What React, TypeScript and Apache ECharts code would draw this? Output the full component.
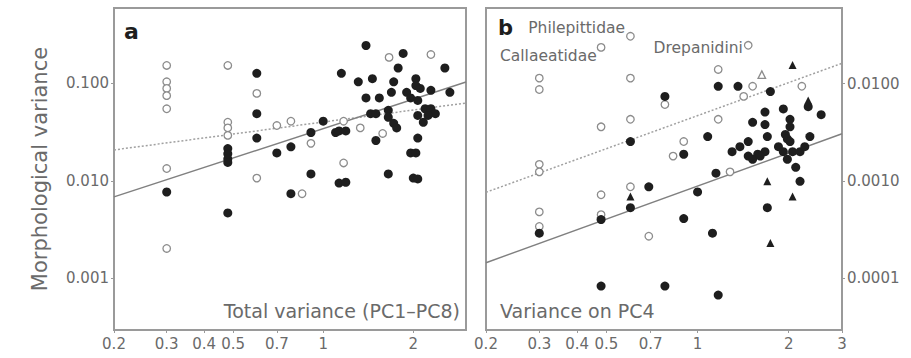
import React, { useEffect, useRef } from "react";
import * as echarts from "echarts";

// ---- tick labels ----
const xTicksA = [0.2, 0.3, 0.4, 0.5, 0.7, 1, 2];
const xTicksB = [0.2, 0.3, 0.4, 0.5, 0.7, 1, 2, 3];
const yTicksA = [0.001, 0.01, 0.1];
const yTicksB = [0.0001, 0.001, 0.01];

// ---- panel a: total variance (PC1–PC8) ----
const aFilled: number[][] = [
  [0.3, 0.0077],
  [0.48, 0.0215], [0.48, 0.019], [0.48, 0.0168], [0.48, 0.0155], [0.48, 0.0047],
  [0.6, 0.127], [0.6, 0.049], [0.6, 0.0275],
  [0.7, 0.0194],
  [0.78, 0.0224], [0.78, 0.0074],
  [0.91, 0.0314], [0.91, 0.0118],
  [1.0, 0.041],
  [1.1, 0.0314],
  [1.13, 0.0326], [1.19, 0.0326], [1.13, 0.0095], [1.19, 0.0097],
  [1.15, 0.127],
  [1.39, 0.245],
  [1.31, 0.104], [1.46, 0.112],
  [1.39, 0.071], [1.54, 0.071],
  [1.44, 0.049], [1.5, 0.049],
  [1.5, 0.026],
  [1.65, 0.053], [1.65, 0.045], [1.72, 0.039], [1.76, 0.035],
  [1.69, 0.081], [1.72, 0.104],
  [1.78, 0.144],
  [1.85, 0.203],
  [1.9, 0.081],
  [1.96, 0.071],
  [2.04, 0.112], [2.04, 0.095], [2.11, 0.089],
  [2.29, 0.085],
  [2.55, 0.144],
  [2.65, 0.081],
  [2.07, 0.067],
  [2.19, 0.055], [2.29, 0.055], [2.37, 0.049], [2.24, 0.047], [2.07, 0.047], [2.16, 0.04],
  [2.07, 0.0275],
  [1.96, 0.0194], [2.04, 0.0194],
  [1.65, 0.0118],
  [2.0, 0.0107], [2.07, 0.0105],
];
const aOpen: number[][] = [
  [0.3, 0.153], [0.3, 0.104], [0.3, 0.089], [0.3, 0.075], [0.3, 0.055], [0.3, 0.0134], [0.3, 0.00203],
  [0.48, 0.153], [0.48, 0.04], [0.48, 0.035], [0.48, 0.0293],
  [0.6, 0.079], [0.6, 0.0107],
  [0.7, 0.037], [0.78, 0.041], [0.85, 0.0074], [0.91, 0.0243],
  [1.17, 0.041], [1.33, 0.035], [1.17, 0.0153], [1.58, 0.0307], [1.66, 0.185], [2.29, 0.198],
];
const aSolidLine: number[][] = [[0.2, 0.00686], [3, 0.1035]];
const aDashedLine: number[][] = [[0.2, 0.0208], [3, 0.063]];

// ---- panel b: variance on PC4 ----
const bFilled: number[][] = [
  [0.78, 0.0074], [0.6, 0.00254], [0.9, 0.00188], [0.69, 0.00087], [0.6, 0.00053], [0.48, 0.0004],
  [0.3, 0.00029], [0.9, 0.00041], [1.0, 0.00077], [0.48, 0.000083], [0.78, 0.000083],
  [1.08, 0.00286], [1.15, 0.0012], [1.12, 0.00029], [1.17, 0.000067],
  [1.17, 0.0094], [1.36, 0.0094], [1.74, 0.0083], [2.32, 0.0058], [2.56, 0.0048],
  [1.92, 0.0055], [1.67, 0.0051], [1.67, 0.0038], [1.52, 0.004], [2.02, 0.0043], [2.02, 0.0036],
  [1.95, 0.003], [1.7, 0.00286], [2.35, 0.00286], [1.98, 0.0027],
  [1.3, 0.002], [1.38, 0.00225], [1.47, 0.00254], [1.47, 0.0018], [1.58, 0.00188], [1.67, 0.002],
  [1.52, 0.00167], [1.85, 0.00225], [1.92, 0.002], [2.06, 0.002], [2.18, 0.002], [2.02, 0.00254],
  [1.98, 0.00167], [2.26, 0.00225], [1.61, 0.0018],
  [2.11, 0.00138], [2.18, 0.00099], [1.7, 0.00053],
];
const bFilledTri: number[][] = [
  [2.06, 0.0156], [2.32, 0.0067], [1.7, 0.00099], [2.06, 0.00069], [1.74, 0.00023], [0.6, 0.00069],
];
const bOpen: number[][] = [
  [0.3, 0.0114], [0.3, 0.0087], [0.6, 0.0114], [0.78, 0.0061], [0.48, 0.0036], [0.6, 0.0043],
  [0.9, 0.00254], [0.83, 0.0018], [0.3, 0.00148], [0.3, 0.00124], [0.6, 0.00087], [0.48, 0.00072],
  [0.3, 0.00048], [0.69, 0.00027], [1.17, 0.014], [1.17, 0.0043], [1.28, 0.00124], [1.42, 0.0074],
  [1.52, 0.0094], [2.21, 0.0094], [0.3, 0.00034], [0.48, 0.00045],
];
const bOpenTri: number[][] = [[1.63, 0.0124]];
const bNamedNames = ["Philepittidae", "Callaeatidae", "Drepanidini"];
const bNamedValues: number[][] = [[0.6, 0.0307], [0.48, 0.0236], [1.47, 0.0248]];
const bSolidLine: number[][] = [[0.2, 0.000144], [3, 0.00305]];
const bDashedLine: number[][] = [[0.2, 0.000764], [3, 0.0162]];

const FONT = "DejaVu Sans";
const AXIS_COLOR = "#9a9a9a";
const TEXT_COLOR = "#6a6a6a";
const FILL = "#1e1e1e";
const OPEN_STROKE = "#8c8c8c";

function xAxis(gridIndex: number, ticks: number[]) {
  return {
    type: "log",
    gridIndex,
    logBase: 10,
    min: 0.2,
    max: 3,
    axisLine: { show: true, lineStyle: { color: AXIS_COLOR, width: 2 } },
    axisTick: { show: true, customValues: ticks, length: 3, inside: false, lineStyle: { color: AXIS_COLOR, width: 1 } },
    axisLabel: {
      customValues: ticks,
      formatter: (v: number) => String(+Number(v).toPrecision(3)),
      color: TEXT_COLOR,
      fontSize: 15,
      fontFamily: FONT,
      margin: 6,
    },
    splitLine: { show: false },
    minorTick: { show: false },
  };
}

function yAxis(gridIndex: number, ticks: number[], min: number, max: number, digits: number, position: string, extra: any) {
  return {
    type: "log",
    gridIndex,
    logBase: 10,
    min,
    max,
    position,
    axisLine: { show: true, lineStyle: { color: AXIS_COLOR, width: 2 } },
    axisTick: { show: true, customValues: ticks, length: 3, lineStyle: { color: AXIS_COLOR, width: 1 } },
    axisLabel: {
      customValues: ticks,
      formatter: (v: number) => Number(v).toFixed(digits),
      color: TEXT_COLOR,
      fontSize: 15,
      fontFamily: FONT,
      margin: 5,
    },
    splitLine: { show: false },
    minorTick: { show: false },
    ...extra,
  };
}

function scatter(xi: number, data: number[][], kind: "filled" | "open", symbol = "circle") {
  const filled = kind === "filled";
  return {
    type: "scatter",
    xAxisIndex: xi,
    yAxisIndex: xi,
    data,
    symbol,
    symbolSize: filled ? (symbol === "triangle" ? 8 : 9) : 7.5,
    itemStyle: filled
      ? { color: FILL, opacity: 1 }
      : { color: "#ffffff", borderColor: OPEN_STROKE, borderWidth: 1.3, opacity: 1 },
    z: filled ? 4 : 3,
  };
}

function line(xi: number, data: number[][], dashed: boolean) {
  return {
    type: "line",
    xAxisIndex: xi,
    yAxisIndex: xi,
    data,
    symbol: "none",
    lineStyle: dashed
      ? { color: "#a0a0a0", width: 1.5, type: [2, 2] }
      : { color: "#808080", width: 1.5 },
    z: 2,
  };
}

const labelOffsets: any[] = [
  { position: "left", distance: 1, offset: [0, -8] },
  { position: "left", distance: 0, offset: [0, 9] },
  { position: "left", distance: 1, offset: [0, 3] },
];

export default function App() {
  const ref = useRef<HTMLDivElement>(null);
  useEffect(() => {
    if (!ref.current) return;
    const chart = echarts.init(ref.current, null, { renderer: "svg" });
    const option: any = {
      animation: false,
      backgroundColor: "#ffffff",
      grid: [
        { left: 114, top: 8, width: 352, height: 322, show: true, borderColor: AXIS_COLOR, borderWidth: 2, containLabel: false },
        { left: 486, top: 8, width: 356, height: 322, show: true, borderColor: AXIS_COLOR, borderWidth: 2, containLabel: false },
      ],
      xAxis: [xAxis(0, xTicksA), xAxis(1, xTicksB)],
      yAxis: [
        yAxis(0, yTicksA, 0.000296, 0.594, 3, "left", {
          name: "Morphological variance",
          nameLocation: "middle",
          nameGap: 64,
          nameTextStyle: { fontSize: 21, color: TEXT_COLOR, fontFamily: FONT },
        }),
        yAxis(1, yTicksB, 0.0000293, 0.06, 4, "right", {}),
      ],
      series: [
        line(0, aDashedLine, true),
        line(0, aSolidLine, false),
        scatter(0, aOpen, "open"),
        scatter(0, aFilled, "filled"),
        line(1, bDashedLine, true),
        line(1, bSolidLine, false),
        scatter(1, bOpen, "open"),
        scatter(1, bOpenTri, "open", "triangle"),
        scatter(1, bFilled, "filled"),
        scatter(1, bFilledTri, "filled", "triangle"),
        {
          type: "scatter",
          xAxisIndex: 1,
          yAxisIndex: 1,
          symbol: "circle",
          symbolSize: 7.5,
          itemStyle: { color: "#ffffff", borderColor: OPEN_STROKE, borderWidth: 1.3, opacity: 1 },
          data: bNamedValues.map((v, i) => ({
            value: v,
            name: bNamedNames[i],
            label: { show: true, formatter: "{b}", ...labelOffsets[i] },
          })),
          label: { color: TEXT_COLOR, fontSize: 15.5, fontFamily: FONT },
          z: 3,
        },
      ],
      graphic: [
        { type: "text", x: 124, y: 31, style: { text: "a", font: `bold 22px "${FONT}"`, fill: "#1e1e1e", verticalAlign: "middle" } },
        { type: "text", x: 498, y: 28, style: { text: "b", font: `bold 21px "${FONT}"`, fill: "#1e1e1e", verticalAlign: "middle" } },
        { type: "text", x: 460, y: 311, style: { text: "Total variance (PC1\u2013PC8)", font: `19px "${FONT}"`, fill: TEXT_COLOR, align: "right", verticalAlign: "middle" } },
        { type: "text", x: 500, y: 311, style: { text: "Variance on PC4", font: `19px "${FONT}"`, fill: TEXT_COLOR, align: "left", verticalAlign: "middle" } },
      ],
    };
    chart.setOption(option);
    return () => chart.dispose();
  }, []);
  return (
    <div
      ref={ref}
      style={{ position: "fixed", left: 0, top: 0, width: 911, height: 358, background: "#fff" }}
    />
  );
}
